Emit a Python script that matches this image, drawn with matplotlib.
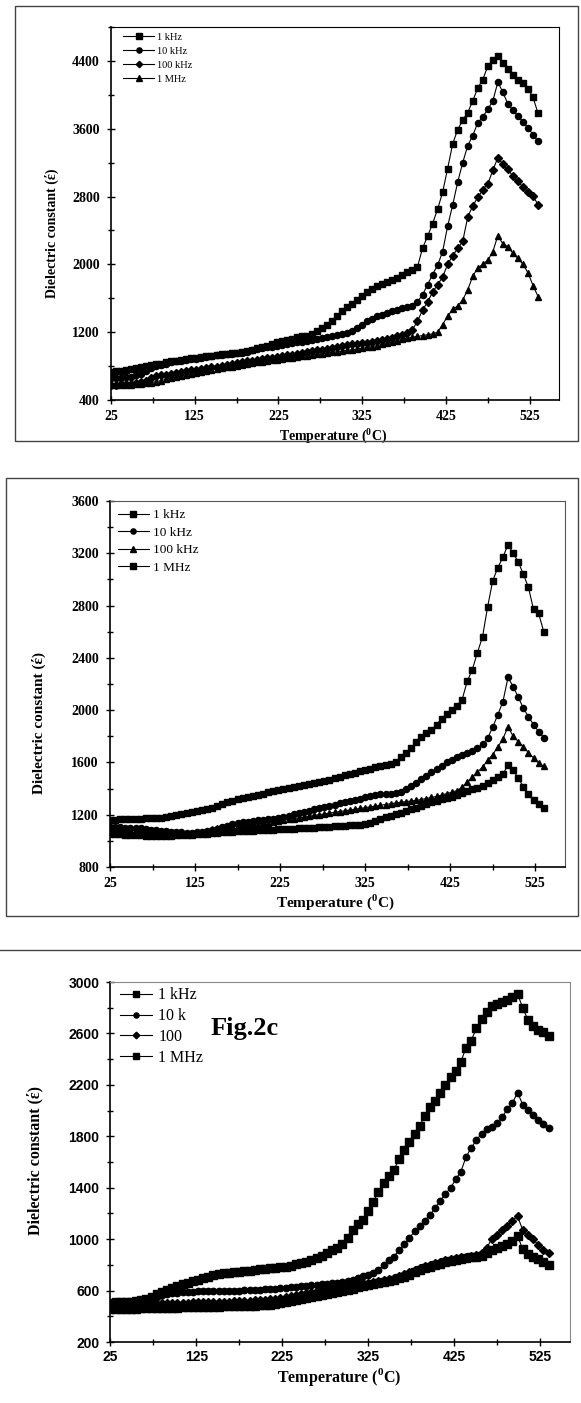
import matplotlib
matplotlib.use("Agg")
import matplotlib.pyplot as plt
from matplotlib.patches import Rectangle
from matplotlib.ticker import MultipleLocator, FixedLocator

plt.rcParams['mathtext.fontset'] = 'custom'
plt.rcParams['mathtext.rm'] = 'Liberation Serif'
plt.rcParams['mathtext.bf'] = 'Liberation Serif:bold'

# temperature (deg C), shared by all three panels
temp = [25, 31, 37, 43, 49, 55, 61, 67, 73, 79,
        85, 91, 97, 103, 109, 115, 121, 127, 133, 139,
        145, 151, 157, 163, 169, 175, 181, 187, 193, 199,
        205, 211, 217, 223, 229, 235, 241, 247, 253, 259,
        265, 271, 277, 283, 289, 295, 301, 307, 313, 319,
        325, 331, 337, 343, 349, 355, 361, 367, 373, 379,
        385, 391, 397, 403, 409, 415, 421, 427, 433, 439,
        445, 451, 457, 463, 469, 475, 481, 487, 493, 499,
        505, 511, 517, 523, 529, 535]

# ---- panel a ----
a_1k = [735, 740, 745, 755, 765, 775, 790, 800, 810, 820,
        830, 845, 855, 865, 875, 885, 890, 895, 905, 915,
        920, 930, 940, 945, 950, 955, 965, 980, 995, 1010,
        1025, 1040, 1060, 1080, 1095, 1110, 1125, 1140, 1150, 1160,
        1180, 1215, 1255, 1285, 1330, 1390, 1445, 1495, 1535, 1580,
        1630, 1670, 1715, 1745, 1770, 1790, 1815, 1845, 1880, 1905,
        1930, 1970, 2190, 2330, 2480, 2650, 2850, 3130, 3420, 3590,
        3700, 3790, 3930, 4080, 4180, 4340, 4410, 4460, 4380, 4310,
        4230, 4180, 4140, 4070, 3970, 3780]
a_10k = [655, 658, 662, 668, 675, 690, 710, 740, 775, 800,
         815, 830, 845, 855, 865, 875, 880, 885, 895, 905,
         915, 925, 935, 940, 945, 950, 960, 970, 985, 1000,
         1010, 1020, 1030, 1040, 1050, 1060, 1070, 1080, 1090, 1100,
         1110, 1120, 1130, 1140, 1150, 1165, 1180, 1195, 1215, 1245,
         1280, 1330, 1360, 1385, 1405, 1425, 1445, 1465, 1480, 1495,
         1510, 1560, 1640, 1760, 1880, 1990, 2150, 2450, 2700, 2970,
         3200, 3400, 3520, 3670, 3740, 3830, 3930, 4150, 4030, 3890,
         3820, 3750, 3680, 3610, 3530, 3450]
a_100k = [580, 582, 585, 588, 592, 598, 610, 630, 660, 680,
          690, 700, 710, 720, 730, 740, 748, 755, 765, 775,
          785, 795, 805, 815, 825, 835, 845, 855, 862, 870,
          880, 890, 900, 910, 918, 925, 935, 945, 955, 965,
          975, 985, 995, 1005, 1015, 1025, 1035, 1045, 1055, 1062,
          1070, 1078, 1088, 1098, 1110, 1120, 1135, 1150, 1165, 1185,
          1230, 1330, 1460, 1556, 1670, 1760, 1850, 2000, 2100, 2190,
          2270, 2560, 2690, 2790, 2880, 2950, 3110, 3260, 3180, 3120,
          3040, 2980, 2910, 2850, 2810, 2700]
a_1m = [575, 575, 576, 578, 580, 583, 588, 595, 605, 618,
        630, 645, 660, 672, 685, 698, 710, 720, 730, 740,
        752, 763, 775, 785, 795, 805, 815, 825, 835, 843,
        850, 858, 866, 874, 882, 890, 898, 906, 914, 922,
        930, 938, 946, 954, 962, 970, 978, 986, 994, 1002,
        1010, 1020, 1030, 1042, 1055, 1070, 1085, 1100, 1115, 1130,
        1140, 1150, 1160, 1170, 1180, 1200, 1290, 1390, 1470, 1510,
        1580, 1700, 1860, 1960, 2000, 2050, 2150, 2340, 2240, 2210,
        2130, 2070, 2000, 1900, 1750, 1620]

# ---- panel b ----
b_1k = [1160, 1162, 1164, 1166, 1168, 1170, 1171, 1172, 1173, 1174,
        1176, 1180, 1188, 1198, 1207, 1214, 1220, 1228, 1236, 1244,
        1254, 1266, 1280, 1295, 1308, 1318, 1326, 1334, 1342, 1350,
        1360, 1372, 1384, 1392, 1400, 1406, 1412, 1418, 1425, 1432,
        1440, 1448, 1456, 1466, 1478, 1490, 1500, 1510, 1520, 1532,
        1544, 1553, 1562, 1572, 1582, 1590, 1605, 1640, 1675, 1710,
        1755, 1798, 1825, 1850, 1890, 1935, 1970, 2000, 2035, 2080,
        2220, 2310, 2440, 2560, 2790, 2990, 3090, 3170, 3267, 3200,
        3135, 3040, 2940, 2770, 2740, 2600]
b_10k = [1105, 1105, 1104, 1102, 1100, 1098, 1095, 1090, 1085, 1080,
         1075, 1072, 1070, 1066, 1064, 1062, 1062, 1064, 1068, 1074,
         1082, 1092, 1104, 1116, 1126, 1134, 1142, 1148, 1152, 1156,
         1160, 1164, 1170, 1176, 1184, 1192, 1202, 1212, 1222, 1232,
         1242, 1252, 1262, 1270, 1278, 1288, 1296, 1304, 1312, 1322,
         1332, 1342, 1350, 1356, 1360, 1362, 1364, 1370, 1395, 1420,
         1445, 1470, 1495, 1525, 1550, 1575, 1600, 1620, 1640, 1655,
         1670, 1690, 1710, 1740, 1785, 1870, 1965, 2065, 2251, 2180,
         2100, 2015, 1950, 1890, 1835, 1790]
b_100k = [1085, 1085, 1084, 1083, 1082, 1080, 1078, 1075, 1072, 1070,
          1068, 1066, 1064, 1062, 1062, 1062, 1063, 1065, 1070, 1078,
          1088, 1096, 1102, 1106, 1110, 1114, 1118, 1122, 1126, 1130,
          1134, 1140, 1146, 1152, 1158, 1164, 1170, 1176, 1182, 1188,
          1194, 1200, 1206, 1212, 1218, 1224, 1230, 1236, 1242, 1248,
          1254, 1260, 1266, 1272, 1278, 1284, 1290, 1295, 1300, 1305,
          1310, 1316, 1324, 1332, 1340, 1350, 1362, 1372, 1385, 1410,
          1450, 1485, 1525, 1565, 1615, 1660, 1720, 1780, 1874, 1800,
          1760, 1720, 1675, 1635, 1595, 1570]
b_1m = [1055, 1052, 1050, 1048, 1046, 1044, 1042, 1040, 1039, 1038,
        1038, 1038, 1040, 1042, 1044, 1046, 1048, 1050, 1052, 1055,
        1058, 1062, 1065, 1068, 1070, 1072, 1074, 1076, 1078, 1080,
        1082, 1084, 1086, 1088, 1090, 1092, 1094, 1096, 1098, 1100,
        1102, 1104, 1106, 1108, 1110, 1112, 1115, 1118, 1121, 1124,
        1128, 1136, 1150, 1165, 1180, 1192, 1204, 1215, 1225, 1240,
        1255, 1270, 1285, 1298, 1308, 1318, 1325, 1335, 1350, 1365,
        1380, 1393, 1405, 1420, 1440, 1462, 1485, 1510, 1582, 1540,
        1480, 1415, 1355, 1315, 1285, 1255]

# ---- panel c ----
c_1k = [505, 508, 510, 512, 515, 520, 528, 538, 552, 570,
        590, 605, 620, 638, 650, 662, 672, 682, 694, 706,
        718, 728, 735, 740, 744, 747, 752, 756, 760, 764,
        768, 772, 776, 780, 786, 795, 803, 812, 822, 838,
        856, 872, 895, 915, 935, 960, 1010, 1070, 1115, 1152,
        1220, 1290, 1370, 1440, 1490, 1540, 1620, 1690, 1755, 1820,
        1880, 1960, 2030, 2075, 2135, 2200, 2260, 2310, 2380, 2490,
        2545, 2640, 2715, 2770, 2810, 2830, 2847, 2860, 2880, 2905,
        2800, 2705, 2660, 2630, 2610, 2580]
c_10k = [495, 497, 499, 502, 506, 512, 520, 530, 540, 552,
         562, 570, 578, 584, 588, 590, 592, 593, 594, 594,
         595, 596, 597, 598, 599, 600, 602, 604, 606, 608,
         610, 612, 615, 618, 622, 626, 630, 634, 638, 642,
         646, 650, 654, 658, 662, 667, 673, 682, 695, 712,
         725, 740, 760, 800, 835, 862, 915, 960, 1009, 1060,
         1100, 1145, 1190, 1240, 1300, 1350, 1400, 1464, 1525, 1640,
         1710, 1770, 1820, 1858, 1876, 1905, 1950, 2010, 2060, 2140,
         2045, 2005, 1965, 1925, 1895, 1862]
c_100k = [480, 482, 484, 486, 488, 490, 492, 494, 496, 498,
          500, 502, 504, 505, 506, 507, 508, 509, 510, 511,
          512, 513, 514, 515, 516, 518, 520, 522, 524, 526,
          528, 532, 538, 545, 552, 560, 568, 576, 584, 592,
          600, 607, 614, 620, 626, 632, 638, 644, 650, 656,
          662, 668, 675, 682, 690, 700, 712, 726, 742, 760,
          775, 790, 802, 815, 826, 836, 845, 852, 858, 864,
          870, 880, 895, 930, 1005, 1030, 1070, 1105, 1145, 1177,
          1070, 1032, 1000, 955, 915, 893]
c_1m = [455, 456, 457, 458, 459, 460, 461, 462, 463, 464,
        465, 466, 467, 468, 469, 470, 471, 472, 473, 474,
        475, 476, 477, 478, 479, 480, 481, 482, 483, 484,
        486, 490, 496, 504, 512, 520, 528, 536, 544, 552,
        560, 568, 576, 584, 592, 600, 608, 616, 624, 632,
        640, 648, 656, 664, 672, 682, 694, 708, 724, 742,
        758, 772, 785, 798, 810, 820, 830, 838, 845, 852,
        858, 862, 870, 890, 915, 930, 943, 962, 982, 1021,
        925, 882, 865, 848, 825, 802]

a_labels = ['1 kHz', '10 kHz', '100 kHz', '1 MHz']
b_labels = ['1 kHz', '10 kHz', '100 kHz', '1 MHz']
c_labels = ['1 kHz', '10 k', '100', '1 MHz']

x_ticks = [25, 125, 225, 325, 425, 525]
a_yticks = [400, 1200, 2000, 2800, 3600, 4400]
b_yticks = [800, 1200, 1600, 2000, 2400, 2800, 3200, 3600]
c_yticks = [200, 600, 1000, 1400, 1800, 2200, 2600, 3000]
ylabel = 'Dielectric constant (\u03ad)'
xlabel = r'Temperature ($^{\mathbf{0}}$C)'

W, H = 581, 1403
fig = plt.figure(figsize=(W / 100, H / 100), dpi=100)


def px_axes(l, t, r, b):
    return fig.add_axes([l / W, 1 - b / H, (r - l) / W, (b - t) / H])


def setup(ax, ylim, yticks, yminor, tick_font, tick_size, spine_col, pad):
    ax.set_xlim(25, 560)
    ax.set_ylim(*ylim)
    ax.xaxis.set_major_locator(FixedLocator(x_ticks))
    ax.xaxis.set_minor_locator(FixedLocator([75, 175, 275, 375, 475]))
    ax.yaxis.set_major_locator(FixedLocator(yticks))
    ax.yaxis.set_minor_locator(MultipleLocator(yminor))
    ax.tick_params(which='major', direction='inout', length=6, width=1,
                   pad=pad, top=False, right=False)
    ax.tick_params(which='minor', direction='inout', length=5, width=1,
                   top=False, right=False)
    ax.tick_params(axis='y', which='major', pad=5)
    for lab in ax.get_xticklabels() + ax.get_yticklabels():
        lab.set_fontfamily(tick_font)
        lab.set_fontweight('bold')
        lab.set_fontsize(tick_size)
    ax.spines['left'].set_linewidth(1.2)
    ax.spines['bottom'].set_linewidth(1.2)
    ax.spines['top'].set_color(spine_col)
    ax.spines['right'].set_color(spine_col)


def labels(ax, size, xl, yl):
    ax.set_xlabel(xlabel, fontfamily='Liberation Serif', fontweight='bold',
                  fontsize=size, va='center')
    ax.xaxis.set_label_coords(*xl)
    ax.set_ylabel(ylabel, fontfamily='Liberation Serif', fontweight='bold',
                  fontsize=size, va='center')
    ax.yaxis.set_label_coords(*yl)


# ---------- panel a ----------
ax1 = px_axes(111, 27, 559, 400)
for y, m, ms, lab in zip([a_1k, a_10k, a_100k, a_1m], ['s', 'o', 'D', '^'],
                         [4.8, 4.4, 3.8, 4.8], a_labels):
    ax1.plot(temp, y, color='black', lw=0.8, marker=m, ms=ms, label=lab)
setup(ax1, (400, 4800), a_yticks, 400, 'Liberation Serif', 10, 'black', 4)
labels(ax1, 10, (0.496, -0.096), (-0.132, 0.448))
ax1.legend(loc='upper left', bbox_to_anchor=(0.027, 0.985), frameon=False,
           prop={'family': 'Liberation Serif', 'size': 7.5}, numpoints=1,
           borderpad=0, borderaxespad=0, handlelength=3.0,
           handletextpad=0.3, labelspacing=0.45, markerscale=0.85)

# ---------- panel b ----------
ax2 = px_axes(110, 501, 565, 867)
for y, m, ms, lab in zip([b_1k, b_10k, b_100k, b_1m], ['s', 'o', '^', 's'],
                         [4.8, 4.4, 5.0, 4.8], b_labels):
    ax2.plot(temp, y, color='black', lw=0.8, marker=m, ms=ms, label=lab)
setup(ax2, (800, 3600), b_yticks, 200, 'Liberation Serif', 10, '#555555', 4)
labels(ax2, 11, (0.495, -0.096), (-0.156, 0.394))
ax2.legend(loc='upper left', bbox_to_anchor=(0.018, 0.978), frameon=False,
           prop={'family': 'Liberation Serif', 'size': 9.5}, numpoints=1,
           borderpad=0, borderaxespad=0, handlelength=2.3,
           handletextpad=0.35, labelspacing=0.4, markerscale=0.85)

# ---------- panel c ----------
ax3 = px_axes(110.4, 982, 570, 1342)
for y, m, ms, lab in zip([c_1k, c_10k, c_100k, c_1m], ['s', 'o', 'D', 's'],
                         [5.2, 4.6, 4.2, 5.2], c_labels):
    ax3.plot(temp, y, color='black', lw=0.8, marker=m, ms=ms, label=lab)
setup(ax3, (200, 3000), c_yticks, 200, 'Liberation Sans', 10, '#888888', 3)
labels(ax3, 11.5, (0.498, -0.097), (-0.164, 0.503))
ax3.legend(loc='upper left', bbox_to_anchor=(0.021, 0.985), frameon=False,
           prop={'family': 'Liberation Serif', 'size': 11.5}, numpoints=1,
           borderpad=0, borderaxespad=0, handlelength=2.0,
           handletextpad=0.4, labelspacing=0.3, markerscale=0.8)
ax3.text(211 / W, 1 - 1029 / H, 'Fig.2c', transform=fig.transFigure,
         fontfamily='Liberation Serif', fontweight='bold', fontsize=19,
         ha='left', va='center')

# frames around the first two panels and the rule above the third
fig.add_artist(Rectangle((15 / W, 1 - 441 / H), 563 / W, 435 / H,
                         transform=fig.transFigure, fill=False,
                         edgecolor='#444444', lw=1))
fig.add_artist(Rectangle((5.5 / W, 1 - 916 / H), 572.5 / W, 437.7 / H,
                         transform=fig.transFigure, fill=False,
                         edgecolor='#444444', lw=1))
fig.add_artist(plt.Line2D([0, 1], [1 - 950 / H, 1 - 950 / H],
                          transform=fig.transFigure, color='#444444', lw=1))

fig.savefig('out.png', dpi=100)
